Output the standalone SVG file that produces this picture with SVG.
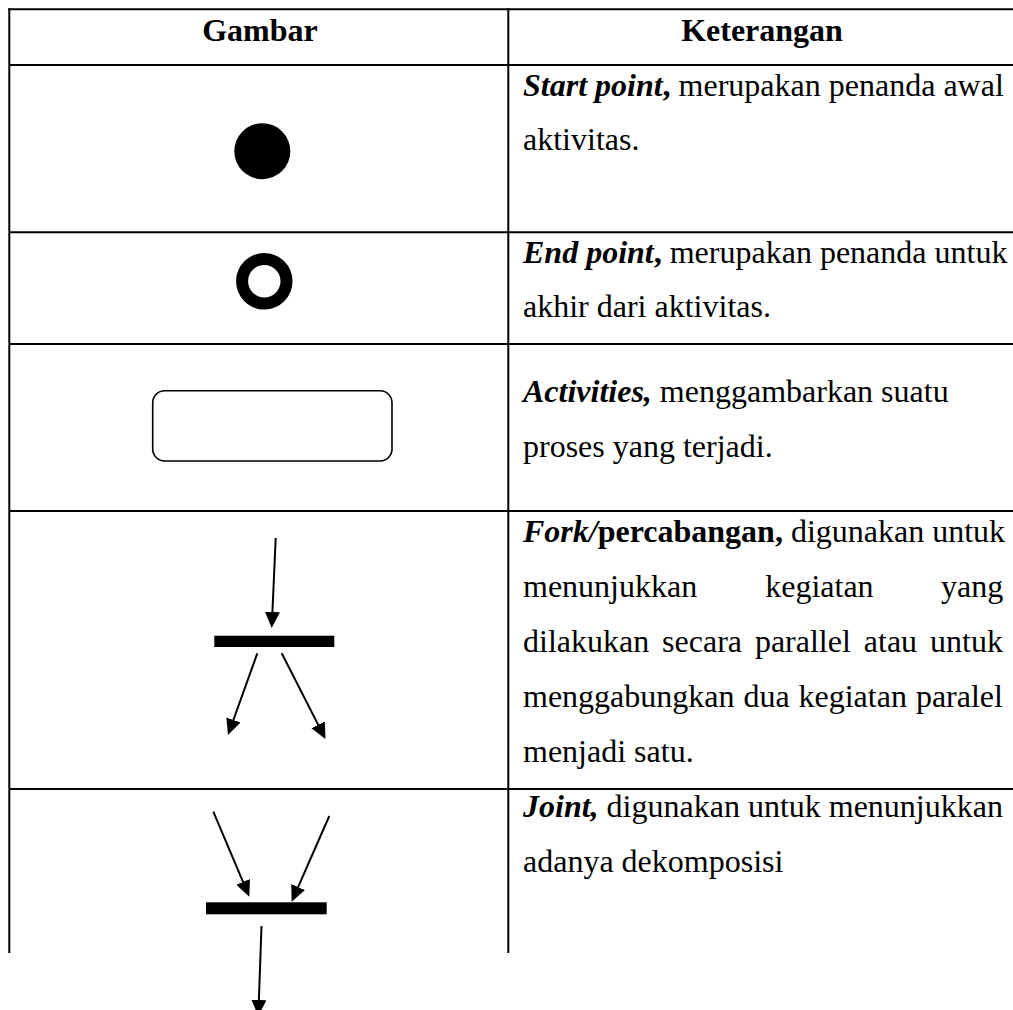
<svg xmlns="http://www.w3.org/2000/svg" width="1013" height="1010" viewBox="0 0 1013 1010">
  <style>
    text { font-family: "Liberation Serif", "Times New Roman", serif; font-size: 32px; fill: #000; }
    .hd { font-weight: bold; text-anchor: middle; }
    .bi { font-weight: bold; font-style: italic; }
    .b { font-weight: bold; }
    .grid line { stroke: #000; stroke-width: 2; }
    .arrow { stroke: #000; stroke-width: 2; fill: none; marker-end: url(#head); }
    .bar { fill: #000; }
  </style>
  <defs>
    <marker id="head" markerUnits="userSpaceOnUse" markerWidth="16" markerHeight="16" refX="8" refY="7.5" orient="auto">
      <path d="M0,0 L16,7.5 L0,15 Z" fill="#000"/>
    </marker>
  </defs>

  <rect width="1013" height="1010" fill="#fff"/>

  <!-- table rules -->
  <g id="table" class="grid">
    <line x1="8.3" y1="9.3" x2="1013" y2="9.3"/>
    <line x1="9.3" y1="65" x2="1013" y2="65"/>
    <line x1="9.3" y1="232.3" x2="1013" y2="232.3"/>
    <line x1="9.3" y1="344" x2="1013" y2="344"/>
    <line x1="9.3" y1="511" x2="1013" y2="511"/>
    <line x1="9.3" y1="789" x2="1013" y2="789"/>
    <line x1="9.3" y1="8.3" x2="9.3" y2="953"/>
    <line x1="508.3" y1="8.3" x2="508.3" y2="953"/>
  </g>

  <!-- header -->
  <g id="header">
    <text class="hd" x="260" y="41">Gambar</text>
    <text class="hd" x="762" y="41">Keterangan</text>
  </g>

  <!-- symbols -->
  <g id="start-node">
    <circle cx="262.3" cy="151.2" r="28" fill="#000"/>
  </g>
  <g id="end-node">
    <circle cx="264.3" cy="281.3" r="22.2" fill="none" stroke="#000" stroke-width="12"/>
  </g>
  <g id="activity-node">
    <rect x="152.7" y="390.7" width="239.3" height="70.3" rx="12" fill="#fff" stroke="#000" stroke-width="1.6"/>
  </g>
  <g id="fork-node">
    <rect class="bar" x="214.3" y="635.7" width="120" height="11.3"/>
  </g>
  <g id="join-node">
    <rect class="bar" x="206" y="902.3" width="120.7" height="12"/>
  </g>

  <!-- connectors -->
  <g id="connectors">
    <line class="arrow" x1="275.7" y1="538" x2="272.06" y2="620"/>
    <line class="arrow" x1="257.3" y1="653.3" x2="230.7" y2="727.5"/>
    <line class="arrow" x1="281.7" y1="653.3" x2="321.8" y2="731.9"/>
    <line class="arrow" x1="213.3" y1="811.7" x2="246.2" y2="889.3"/>
    <line class="arrow" x1="329.3" y1="816" x2="294.9" y2="894.4"/>
    <line class="arrow" x1="261.5" y1="926" x2="258.6" y2="1008"/>
  </g>

  <!-- descriptions -->
  <g id="desc-start">
    <text x="523" y="96"><tspan class="bi">Start point</tspan><tspan class="b">,</tspan> merupakan penanda awal</text>
    <text x="523" y="150">aktivitas.</text>
  </g>
  <g id="desc-end">
    <text x="523" y="262.5"><tspan class="bi">End point</tspan><tspan class="b">,</tspan> merupakan penanda untuk</text>
    <text x="523" y="317">akhir dari aktivitas.</text>
  </g>
  <g id="desc-activity">
    <text x="523" y="402"><tspan class="bi">Activities,</tspan> menggambarkan suatu</text>
    <text x="523" y="457">proses yang terjadi.</text>
  </g>
  <g id="desc-fork">
    <text x="523" y="541.5"><tspan class="bi">Fork/</tspan><tspan class="b">percabangan,</tspan> digunakan untuk</text>
    <text y="596.5"><tspan x="523">menunjukkan</tspan><tspan x="765.2">kegiatan</tspan><tspan x="941">yang</tspan></text>
    <text y="651.5"><tspan x="523">dilakukan</tspan><tspan x="662.1">secara</tspan><tspan x="754.9">parallel</tspan><tspan x="863.8">atau</tspan><tspan x="930">untuk</tspan></text>
    <text y="706.5"><tspan x="523">menggabungkan</tspan><tspan x="743.4">dua</tspan><tspan x="798.5">kegiatan</tspan><tspan x="915.9">paralel</tspan></text>
    <text x="523" y="761.5">menjadi satu.</text>
  </g>
  <g id="desc-join">
    <text x="523" y="817"><tspan class="bi">Joint,</tspan> digunakan untuk menunjukkan</text>
    <text x="523" y="872">adanya dekomposisi</text>
  </g>
</svg>
